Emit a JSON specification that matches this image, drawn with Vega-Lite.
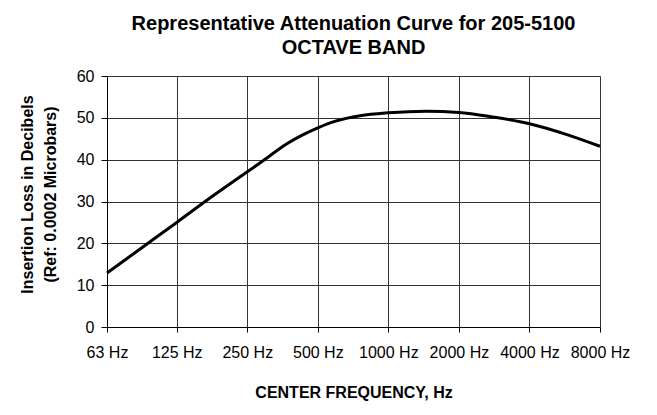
{
  "$schema": "https://vega.github.io/schema/vega-lite/v6.json",
  "autosize": "none",
  "padding": {"left": 107, "top": 76, "right": 57, "bottom": 88},
  "width": 493,
  "height": 251,
  "background": "white",
  "config": {
    "font": "Liberation Sans",
    "view": {"stroke": null},
    "axis": {
      "labelFont": "Liberation Sans",
      "labelFontSize": 16,
      "labelColor": "black",
      "titleFont": "Liberation Sans",
      "titleFontSize": 16,
      "titleFontWeight": "bold",
      "titleColor": "black",
      "domainColor": "black",
      "tickColor": "black",
      "gridColor": "#333333",
      "gridOpacity": 1,
      "gridWidth": 1,
      "domainWidth": 1,
      "tickWidth": 1
    }
  },
  "title": {
    "text": ["Representative Attenuation Curve for 205-5100", "OCTAVE BAND"],
    "font": "Liberation Sans",
    "fontSize": 20,
    "fontWeight": "bold",
    "color": "black",
    "anchor": "middle",
    "frame": "group",
    "lineHeight": 24,
    "offset": 10
  },
  "data": {
    "values": [
      {"freq": 63, "loss": 12.9},
      {"freq": 89, "loss": 19.0},
      {"freq": 125, "loss": 25.0},
      {"freq": 178, "loss": 31.3},
      {"freq": 250, "loss": 37.1},
      {"freq": 293, "loss": 39.8},
      {"freq": 369, "loss": 43.8},
      {"freq": 427, "loss": 45.8},
      {"freq": 500, "loss": 47.6},
      {"freq": 595, "loss": 49.2},
      {"freq": 758, "loss": 50.5},
      {"freq": 1000, "loss": 51.2},
      {"freq": 1446, "loss": 51.6},
      {"freq": 2000, "loss": 51.3},
      {"freq": 2790, "loss": 50.2},
      {"freq": 4000, "loss": 48.6},
      {"freq": 5780, "loss": 46.0},
      {"freq": 8000, "loss": 43.2}
    ]
  },
  "mark": {"type": "line", "color": "black", "strokeWidth": 3, "interpolate": "monotone"},
  "encoding": {
    "x": {
      "field": "freq",
      "type": "quantitative",
      "scale": {"type": "log", "domain": [63, 8000], "nice": false, "zero": false},
      "axis": {
        "title": "CENTER FREQUENCY, Hz",
        "values": [63, 125, 250, 500, 1000, 2000, 4000, 8000],
        "labelExpr": "datum.value + ' Hz'",
        "tickSize": 5,
        "labelPadding": 12,
        "titlePadding": 24,
        "grid": true,
        "labelFlush": false,
        "labelOverlap": false
      }
    },
    "y": {
      "field": "loss",
      "type": "quantitative",
      "scale": {"domain": [0, 60], "nice": false},
      "axis": {
        "title": ["Insertion Loss in Decibels", "(Ref: 0.0002 Microbars)"],
        "titleLineHeight": 23,
        "values": [0, 10, 20, 30, 40, 50, 60],
        "tickSize": 6,
        "labelPadding": 7,
        "titlePadding": 18,
        "titleY": 118,
        "grid": true
      }
    }
  }
}
